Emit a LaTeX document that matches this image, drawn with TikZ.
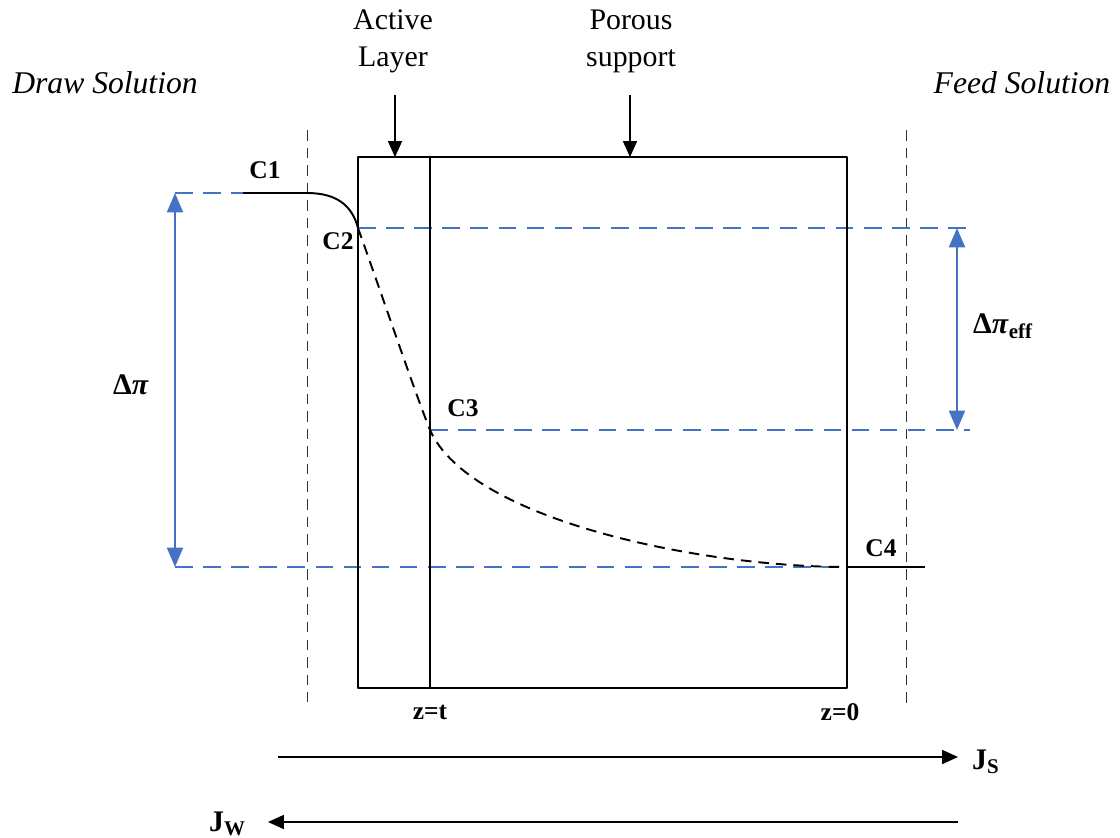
\documentclass[tikz,border=0pt]{standalone}
\usepackage{fontspec}
\setmainfont{Liberation Serif}
\usetikzlibrary{arrows.meta}
\definecolor{blau}{RGB}{68,114,196}
\tikzset{
  lbl/.style={font=\bfseries\fontsize{14.5}{16}\selectfont,inner sep=1pt},
  grosslbl/.style={font=\bfseries\fontsize{17}{19}\selectfont,inner sep=1pt},
  blaudash/.style={blau,line width=1.3pt,dash pattern=on 10pt off 6pt},
  blaupfeil/.style={blau,line width=1.4pt,{Triangle[length=11pt,width=9pt]}-{Triangle[length=11pt,width=9pt]}},
  schwarzpfeil/.style={line width=.6pt,-{Triangle[length=9pt,width=8pt]}},
  grenze/.style={line width=.5pt,dash pattern=on 6pt off 4pt,black!80}
}
\begin{document}
\begin{tikzpicture}[x=0.02cm,y=-0.02cm,line join=round]
\useasboundingbox (0,0) rectangle (1120,838);
% membrane
\coordinate (RL) at (358,157); \coordinate (RR) at (847,688);
\coordinate (AT) at (430,157); \coordinate (AB) at (430,688);
% concentration points
\coordinate (P1) at (243,193); \coordinate (P1b) at (307,193);
\coordinate (P2) at (358,228); \coordinate (P3) at (430,430);
\coordinate (P4) at (847,567); \coordinate (P4b) at (925,567);
% boundary layers
\draw[grenze] (307,130)--(307,702);
\draw[grenze] (906,130)--(906,705);
% blue reference lines
\draw[blaudash] (175,193)--(P1b);
\draw[blaudash] (P2)--(970,228);
\draw[blaudash] (P3)--(970,430);
\draw[blaudash] (175,567)--(906,567);
\draw[line width=1.1pt] (RL) rectangle (RR);
\draw[line width=1.1pt] (AT)--(AB);
% profile
\draw[line width=1.1pt] (P1)--(P1b) .. controls (336,193) and (352,205) .. (P2);
\draw[line width=1.1pt,dash pattern=on 6pt off 4pt] (P2) .. controls (382,295) and (414,390) .. (P3)
  .. controls (470,520) and (700,567) .. (P4);
\draw[line width=1.1pt] (P4)--(P4b);
% labels
\node[lbl] (c1) at (265,170) {C1};
\node[lbl] (c2) at (338,241) {C2};
\node[lbl] (c3) at (463,408) {C3};
\node[lbl] (c4) at (881,548) {C4};
\node[lbl] (zt) at (430,712) {z=t};
\node[lbl] (z0) at (840,712) {z=0};
% driving forces
\draw[blaupfeil] (175,193)--(175,567);
\node[grosslbl] (dpi) at (131,385) {Δ\textit{π}};
\draw[blaupfeil] (957,228)--(957,430);
\node[grosslbl] (dpieff) at (1003,326) {Δ\textit{π}\textsubscript{eff}};
% layer names
\node[align=center,font=\fontsize{17}{21}\selectfont] (act) at (393,41) {Active\\Layer};
\node[align=center,font=\fontsize{17}{21}\selectfont] (por) at (631,41) {Porous\\support};
\coordinate (actA) at (395,95); \coordinate (actB) at (395,157);
\coordinate (porA) at (630,95); \coordinate (porB) at (630,157);
\draw[schwarzpfeil] (actA)--(actB);
\draw[schwarzpfeil] (porA)--(porB);
\node[font=\itshape\fontsize{18}{20}\selectfont] (draw) at (105,83) {Draw Solution};
\node[font=\itshape\fontsize{18}{20}\selectfont] (feed) at (1022,83) {Feed Solution};
% fluxes
\coordinate (jsA) at (278,757); \coordinate (jsB) at (958,757);
\coordinate (jwA) at (958,822); \coordinate (jwB) at (268,822);
\draw[schwarzpfeil] (jsA)--(jsB);
\draw[schwarzpfeil] (jwA)--(jwB);
\node[grosslbl,anchor=west] (js) at (970,762) {J\textsubscript{S}};
\node[grosslbl,anchor=east] (jw) at (248,824) {J\textsubscript{W}};
\end{tikzpicture}
\end{document}
